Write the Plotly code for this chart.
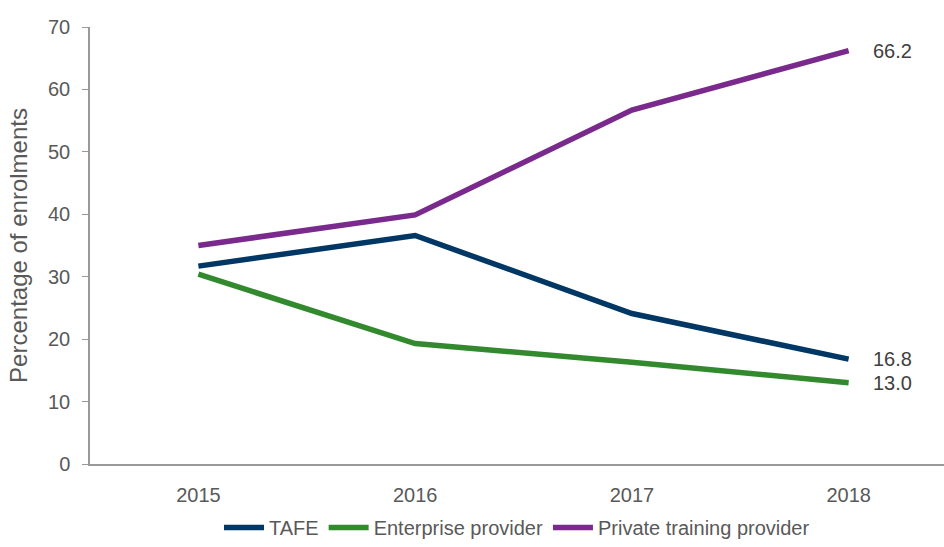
import plotly.graph_objects as go

years = ["2015", "2016", "2017", "2018"]
tafe = [31.7, 36.6, 24.1, 16.8]
enterprise = [30.4, 19.3, 16.3, 13.0]
private = [35.0, 39.9, 56.7, 66.2]

series = [
    ("TAFE", tafe, "#003764"),
    ("Enterprise provider", enterprise, "#338a2e"),
    ("Private training provider", private, "#7a2a8c"),
]

font = dict(family="Liberation Sans, Arial, sans-serif", size=20, color="#595959")

fig = go.Figure()
for name, vals, col in series:
    fig.add_trace(go.Scatter(
        x=years, y=vals, name=name, mode="lines",
        line=dict(color=col, width=5.5),
    ))

# end-of-line value labels
for name, vals, col in series:
    fig.add_annotation(
        x=len(years) - 1, y=vals[-1], xref="x", yref="y",
        text=f"{vals[-1]:.1f}",
        showarrow=False, xanchor="left", yanchor="middle", xshift=22,
        font=dict(family=font["family"], size=20, color="#404040"),
    )

fig.update_layout(
    width=944, height=547,
    margin=dict(l=90, r=0, t=27, b=83),
    plot_bgcolor="white", paper_bgcolor="white",
    font=font,
    showlegend=True,
    legend=dict(
        orientation="h", x=0.5, xanchor="center",
        yref="container", y=0.0, yanchor="bottom",
        font=font, itemwidth=40,
    ),
    xaxis=dict(
        type="category", range=[-0.5, 3.44],
        showline=True, linecolor="#999999", linewidth=1.5,
        showgrid=False, ticks="", ticklabelstandoff=12,
    ),
    yaxis=dict(
        title=dict(text="Percentage of enrolments", standoff=14),
        range=[0, 70], dtick=10,
        showline=True, linecolor="#999999", linewidth=1.5,
        ticks="outside", ticklen=6, tickcolor="#999999",
        showgrid=False, zeroline=False, ticklabelstandoff=8,
    ),
)

fig.write_html("out.html", config={"displayModeBar": False},
               post_script="document.body.style.margin='0';")
